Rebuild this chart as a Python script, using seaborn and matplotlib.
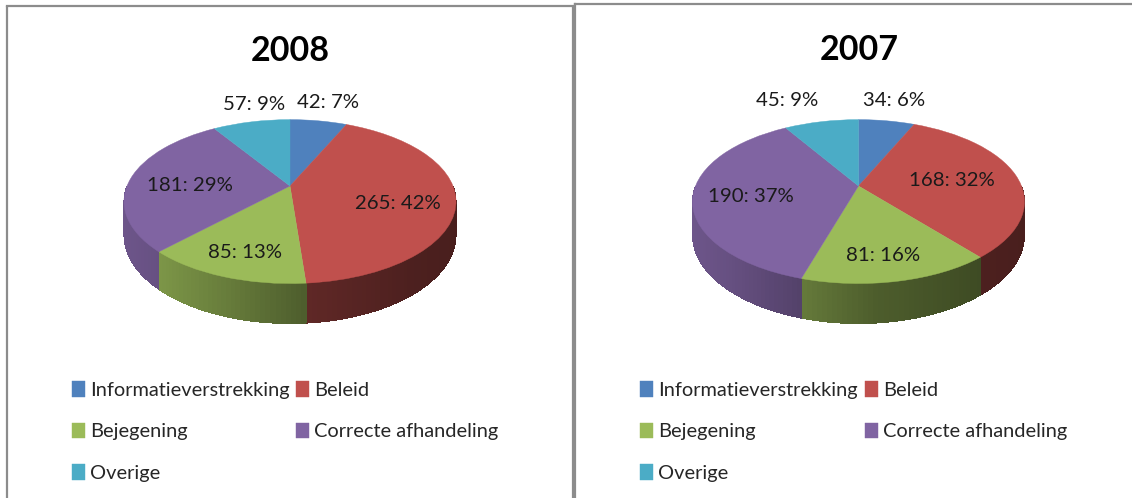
import numpy as np
import matplotlib
matplotlib.use("Agg")
import matplotlib.pyplot as plt
import seaborn as sns
from matplotlib.transforms import Transform

# datos
categorias = ["Informatieverstrekking", "Beleid", "Bejegening", "Correcte afhandeling", "Overige"]
valores_2008 = [42, 265, 85, 181, 57]
valores_2007 = [34, 168, 81, 190, 45]
etiquetas_2008 = ["42: 7%", "265: 42%", "85: 13%", "181: 29%", "57: 9%"]
etiquetas_2007 = ["34: 6%", "168: 32%", "81: 16%", "190: 37%", "45: 9%"]
colores = ["#4F81BD", "#C0504D", "#9BBB59", "#8064A2", "#4BACC6"]

# posicion de las etiquetas en pixeles (no son datos)
pos_2008 = [(328, 102), (398, 203), (245, 252), (190, 185), (254, 104)]
pos_2007 = [(894, 100), (952, 180), (883, 255), (751, 196), (787, 100)]

W, H = 1132, 498
P, KX, KY, FONDO = 0.19, 163, 79, 32.4

sns.set_theme(style="white")
plt.rcParams["font.family"] = ["Lato", "DejaVu Sans"]
paleta = sns.color_palette(colores)


class Perspectiva(Transform):
    """Lleva el disco unidad al plano de la torta, con la parte de atras mas chica."""
    input_dims = 2
    output_dims = 2

    def __init__(self, cx, cy):
        super().__init__()
        self.cx, self.cy = cx, cy

    def transform_non_affine(self, values):
        x, y = np.asarray(values).T
        w = 1 + P * y
        return np.column_stack((self.cx + KX * x / w, self.cy - KY * y / w))


def sombra(xrel):
    # el costado se oscurece de izquierda a derecha
    return np.interp(xrel, [-166, -130, -56, 15, 122, 166], [0.85, 0.80, 0.65, 0.50, 0.40, 0.38])


def dibujar_torta(x0, x1, y0, cx, cy, valores, etiquetas, posiciones, titulo, titulo_xy, lados):
    ax = fig.add_axes([x0 / W, 0, (x1 - x0) / W, (H - y0) / H])
    wedges, _ = ax.pie(valores, colors=paleta, startangle=90, counterclock=False, radius=1)
    ax.set_aspect("auto")
    ax.set_xlim(x0, x1)
    ax.set_ylim(H, y0)
    ax.set_frame_on(True)
    for nombre, spine in ax.spines.items():
        spine.set_visible(nombre in lados)
        spine.set_color("#8c8c8c")
        spine.set_linewidth(1.6)

    persp = Perspectiva(cx, cy)
    for w, color in zip(wedges, paleta):
        w.set_transform(persp + ax.transData)
        w.set_edgecolor(color)
        w.set_linewidth(0.3)
        w.set_zorder(3)

    # costado de la torta, por tramos, a partir de los mismos valores
    angulos = np.concatenate(([0], np.cumsum(valores))) / np.sum(valores) * 360
    for i, color in enumerate(paleta):
        ini, fin = max(angulos[i], 90), min(angulos[i + 1], 270)
        if fin <= ini:
            continue
        cortes = np.linspace(ini, fin, int((fin - ini) / 1.5) + 2)
        for a, b in zip(cortes[:-1], cortes[1:]):
            t = np.radians(np.linspace(a, b, 4))
            px, py = np.sin(t), np.cos(t)
            arriba = persp.transform_non_affine(np.column_stack((px, py)))
            hondo = FONDO / (1 + P * py)
            xs = np.concatenate((arriba[:, 0], arriba[::-1, 0]))
            ys = np.concatenate((arriba[:, 1], (arriba[:, 1] + hondo)[::-1]))
            tono = np.array(color) * sombra(xs.mean() - cx)
            ax.fill(xs, ys, facecolor=tono, edgecolor="none", antialiased=False, zorder=2)

    for texto, (tx, ty) in zip(etiquetas, posiciones):
        ax.text(tx, ty, texto, ha="center", va="center", fontsize=14.7, color="#1a1a1a", zorder=4)
    ax.text(titulo_xy[0], titulo_xy[1], titulo, ha="center", va="center",
            fontsize=24.5, fontweight="bold", color="black")

    # leyenda en dos columnas, se llena por columna
    orden = [0, 2, 4, 1, 3]
    ax.legend([wedges[i] for i in orden], [categorias[i] for i in orden], ncol=2,
              loc="upper left", bbox_to_anchor=((cx - 218 - x0) / (x1 - x0), (H - 381) / (H - y0)),
              frameon=False, fontsize=14.4, handlelength=0.64, handleheight=0.82,
              handletextpad=0.25, columnspacing=0.35, labelspacing=1.2, labelcolor="#262626",
              borderpad=0, borderaxespad=0)
    return ax


fig = plt.figure(figsize=(W / 100, H / 100), dpi=100)
dibujar_torta(7, 573, 6.5, 290, 186, valores_2008, etiquetas_2008, pos_2008, "2008", (290, 51),
              ["left", "top", "right"])
dibujar_torta(575, 1132, 4.5, 858.5, 186, valores_2007, etiquetas_2007, pos_2007, "2007", (859, 50),
              ["left", "top"])

fig.savefig("out.png", dpi=100)
